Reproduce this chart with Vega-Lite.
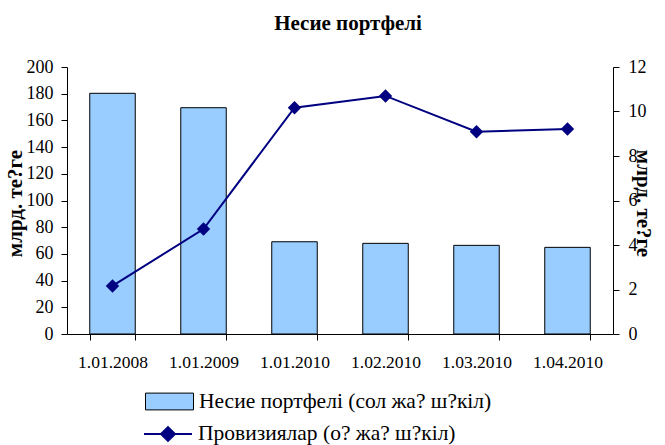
{
  "$schema": "https://vega.github.io/schema/vega-lite/v6.json",
  "width": 546,
  "height": 267,
  "autosize": "none",
  "padding": {"left": 67, "top": 67, "right": 52, "bottom": 111},
  "background": "white",
  "title": {"text": "Несие портфелі", "font": "Liberation Serif", "fontSize": 21, "fontWeight": "bold", "color": "black", "anchor": "middle", "offset": 24, "dx": 8},
  "config": {
    "font": "Liberation Serif",
    "view": {"stroke": null},
    "axis": {"labelFont": "Liberation Serif", "titleFont": "Liberation Serif", "labelColor": "black", "titleColor": "black", "domainColor": "black", "tickColor": "black", "grid": false, "domainWidth": 1, "tickWidth": 1},
    "legend": {"labelFont": "Liberation Serif", "labelColor": "black", "labelFontSize": 21.5, "padding": 0, "labelOffset": 5, "labelLimit": 500}
  },
  "data": {"values": [
    {"date": "1.01.2008", "credit": 180.3, "prov": 2.16},
    {"date": "1.01.2009", "credit": 169.5, "prov": 4.72},
    {"date": "1.01.2010", "credit": 69.1, "prov": 10.17},
    {"date": "1.02.2010", "credit": 67.9, "prov": 10.7},
    {"date": "1.03.2010", "credit": 66.4, "prov": 9.09},
    {"date": "1.04.2010", "credit": 64.9, "prov": 9.21}
  ]},
  "encoding": {
    "x": {"field": "date", "type": "nominal", "sort": null,
      "scale": {"paddingInner": 0.5, "paddingOuter": 0.25},
      "axis": {"title": null, "labelAngle": 0, "labelFont": "Liberation Serif", "labelFontSize": 17.5, "tickBand": "extent", "tickSize": 6, "labelPadding": 13}}
  },
  "layer": [
    {
      "mark": {"type": "bar", "stroke": "black", "strokeWidth": 1},
      "encoding": {
        "y": {"field": "credit", "type": "quantitative", "scale": {"domain": [0, 200]},
          "axis": {"title": "млрд. те?ге", "values": [0, 20, 40, 60, 80, 100, 120, 140, 160, 180, 200], "labelFont": "Liberation Serif", "labelFontSize": 18, "tickSize": 6, "labelPadding": 8, "titleFont": "Liberation Serif", "titleFontSize": 21, "titleFontWeight": "bold", "titleX": -52, "titleY": 136, "titleBaseline": "middle", "titleAngle": -90}},
        "fill": {"datum": "Несие портфелі (сол жа? ш?кіл)", "type": "nominal", "scale": {"range": ["#99CCFF"]},
          "legend": {"title": null, "orient": "none", "legendX": 78, "legendY": 310, "labelFont": "Liberation Serif", "symbolType": "M-1,-0.35H1V0.35H-1Z", "symbolSize": 2304, "symbolStrokeColor": "black", "symbolStrokeWidth": 1, "symbolOpacity": 1}}
      }
    },
    {
      "encoding": {
        "y": {"field": "prov", "type": "quantitative", "scale": {"domain": [0, 12]},
          "axis": {"orient": "right", "title": "млрд. те?ге", "values": [0, 2, 4, 6, 8, 10, 12], "labelFont": "Liberation Serif", "labelFontSize": 18, "tickSize": 6, "labelPadding": 9, "titleFont": "Liberation Serif", "titleFontSize": 21, "titleFontWeight": "bold", "titleX": 29, "titleY": 136, "titleBaseline": "middle", "titleAngle": 90}}
      },
      "layer": [
        {
          "mark": {"type": "line", "strokeWidth": 2},
          "encoding": {
            "stroke": {"datum": "Провизиялар (о? жа? ш?кіл)", "type": "nominal", "scale": {"range": ["#000080"]},
              "legend": {"title": null, "orient": "none", "legendX": 76, "legendY": 342, "labelFont": "Liberation Serif", "symbolType": "M-1,0H1M-0.29,0L0,-0.29L0.29,0L0,0.29Z", "symbolSize": 2304, "symbolFillColor": "#000080", "symbolStrokeWidth": 2, "symbolOpacity": 1}}
          }
        },
        {
          "mark": {"type": "point", "shape": "diamond", "filled": true, "size": 180, "color": "#000080", "opacity": 1},
          "encoding": {}
        }
      ]
    }
  ],
  "resolve": {"scale": {"y": "independent"}}
}
